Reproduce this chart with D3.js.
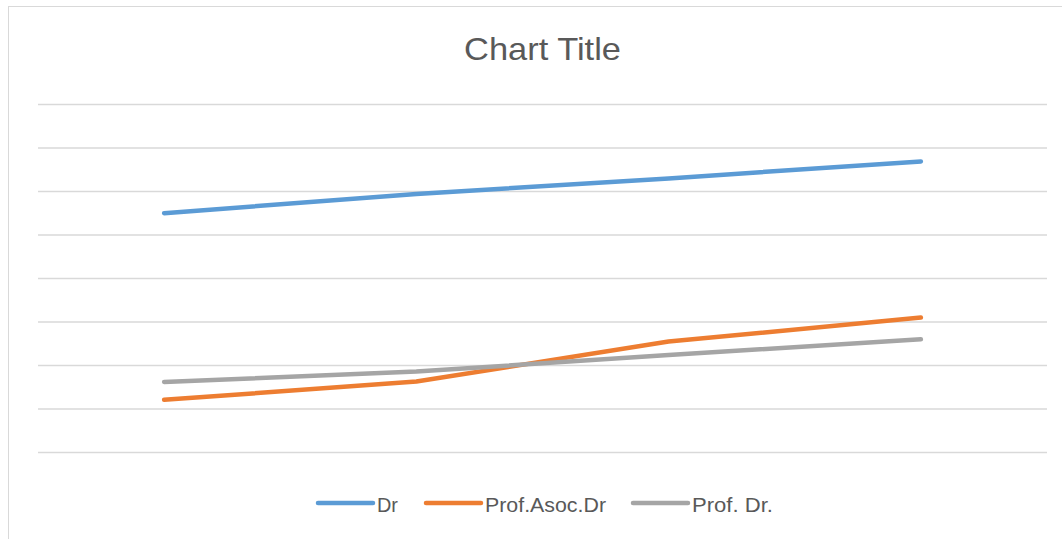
<!DOCTYPE html>
<html>
<head>
<meta charset="utf-8">
<script src="https://cdn.jsdelivr.net/npm/d3@7"></script>
<style>
  body { margin: 0; background: #fff; }
  svg { display: block; }
</style>
</head>
<body>
<div id="chart"></div>
<script>
const categories = ["1", "2", "3", "4"];
const seriesNames = ["Dr", "Prof.Asoc.Dr", "Prof. Dr."];
const drValues = [5.49, 5.93, 6.29, 6.68];
const asocValues = [1.20, 1.62, 2.54, 3.09];
const profValues = [1.61, 1.85, 2.23, 2.59];
const yTicks = [0, 1, 2, 3, 4, 5, 6, 7, 8];

const colors = ["#5B9BD5", "#ED7D31", "#A5A5A5"];
const series = [drValues, asocValues, profValues].map((vals, i) => ({
    name: seriesNames[i],
    color: colors[i],
    values: vals.map((v, j) => ({cat: categories[j], value: v}))
}));

const width = 1062, height = 539;
const margin = {top: 104, right: 15, bottom: 87, left: 38};

const svg = d3.select("#chart").append("svg")
    .attr("width", width)
    .attr("height", height);

// chart frame
svg.append("rect")
    .attr("x", 8.5)
    .attr("y", 6.5)
    .attr("width", 1200)
    .attr("height", 700)
    .attr("fill", "none")
    .attr("stroke", "#D9D9D9")
    .attr("stroke-width", 1);

const x = d3.scaleBand()
    .domain(categories)
    .range([margin.left, width - margin.right]);

const y = d3.scaleLinear()
    .domain([0, 8])
    .range([height - margin.bottom, margin.top]);

// gridlines
const grid = svg.append("g")
    .attr("transform", `translate(${margin.left},0)`)
    .call(d3.axisLeft(y)
        .tickValues(yTicks)
        .tickSize(-(width - margin.left - margin.right))
        .tickFormat(""));
grid.select(".domain").remove();
grid.selectAll(".tick line")
    .attr("stroke", "#D9D9D9")
    .attr("stroke-width", 1.5);

// title
svg.append("text")
    .attr("x", (margin.left + width - margin.right) / 2)
    .attr("y", 60)
    .attr("text-anchor", "middle")
    .attr("font-family", "Liberation Sans, Arial, sans-serif")
    .attr("font-size", 32)
    .attr("fill", "#595959")
    .attr("textLength", 157)
    .attr("lengthAdjust", "spacingAndGlyphs")
    .text("Chart Title");

const line = d3.line()
    .x(d => x(d.cat) + x.bandwidth() / 2)
    .y(d => y(d.value));

svg.append("g")
    .selectAll("path")
    .data(series)
    .join("path")
    .attr("d", d => line(d.values))
    .attr("fill", "none")
    .attr("stroke", d => d.color)
    .attr("stroke-width", 4.5)
    .attr("stroke-linecap", "round")
    .attr("stroke-linejoin", "round");

// legend
const legendItems = [
    {x: 318, textWidth: 21},
    {x: 426, textWidth: 121},
    {x: 633, textWidth: 81}
];
const legendY = 503;
const legend = svg.append("g")
    .selectAll("g")
    .data(series)
    .join("g")
    .attr("transform", (d, i) => `translate(${legendItems[i].x},${legendY})`);

legend.append("line")
    .attr("x1", 0)
    .attr("x2", 55)
    .attr("stroke", d => d.color)
    .attr("stroke-width", 4.5)
    .attr("stroke-linecap", "round");

legend.append("text")
    .attr("x", 59)
    .attr("y", 9)
    .attr("font-family", "Liberation Sans, Arial, sans-serif")
    .attr("font-size", 20)
    .attr("fill", "#595959")
    .attr("textLength", (d, i) => legendItems[i].textWidth)
    .attr("lengthAdjust", "spacingAndGlyphs")
    .text(d => d.name);
</script>
</body>
</html>
